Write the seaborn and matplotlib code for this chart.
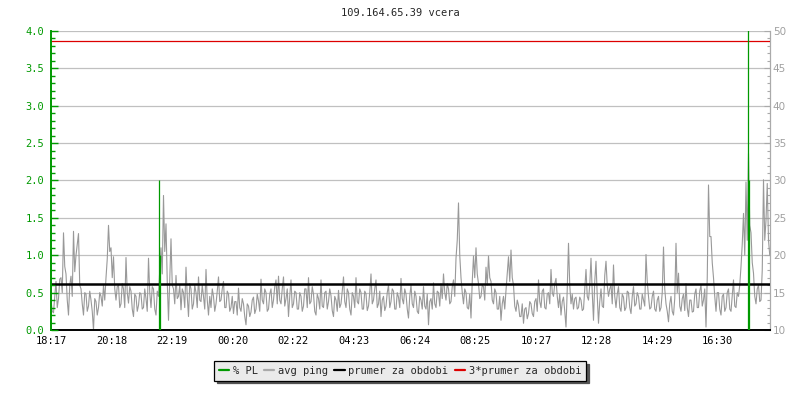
"""
Ping / packet loss chart for 109.164.65.39 (vcera).
"""
import matplotlib
matplotlib.use("Agg")
import matplotlib.pyplot as plt
from matplotlib.lines import Line2D
from matplotlib.ticker import MultipleLocator, FormatStrFormatter
import numpy as np
import pandas as pd
import seaborn as sns

# Data: avg ping in ms, one value every 2.5 minutes
# from 18:17 (one row per hour)
ping_step = 2.5
avg_ping = [
    14.0, 12.5, 12.3, 14.5, 16.5, 13.0, 14.2, 16.8, 17.0, 15.0, 23.0, 18.5,
    17.5, 14.0, 12.0, 16.0, 17.2, 14.5, 23.2, 17.8, 20.0, 21.5, 22.9, 16.0,
    15.5, 13.5, 12.0, 15.0, 14.8, 12.5, 13.2, 15.2, 14.0, 12.5, 10.0, 14.2,
    13.8, 12.0, 13.0, 15.0, 14.5, 13.2, 16.0, 14.0, 17.0, 19.5, 24.0, 20.5,
    21.0, 17.0, 19.8, 15.5, 14.0, 15.8, 16.0, 13.0, 13.5, 16.2, 15.5, 13.0,
    19.7, 15.0, 13.6, 15.8, 15.2, 12.8, 11.8, 14.8, 14.5, 12.5, 13.3, 15.0,
    14.8, 12.8, 13.0, 15.5, 14.2, 12.5, 19.6, 15.0, 13.0, 15.8, 15.5, 12.8,
    12.0, 15.2, 14.5, 18.0, 21.0, 17.5, 28.0, 20.5, 24.2, 16.5, 11.3, 16.8,
    22.2, 16.0, 15.5, 13.5, 17.3, 14.2, 14.5, 16.0, 12.7, 15.5, 15.0, 13.0,
    18.4, 14.5, 11.8, 16.2, 15.5, 12.8, 13.5, 16.0, 15.0, 13.0, 17.1, 14.0,
    13.8, 16.0, 14.5, 12.8, 18.1, 14.0, 12.0, 14.5, 13.0, 15.5, 14.5, 12.5,
    13.5, 15.2, 17.1, 13.8, 14.0, 15.5, 16.5, 13.0, 13.0, 15.2, 14.8, 12.5,
    13.0, 14.5, 12.2, 13.8, 13.8, 12.0, 15.6, 13.0, 12.5, 14.2, 13.5, 11.8,
    10.7, 13.5, 13.2, 11.8, 12.4, 14.0, 14.4, 12.2, 12.8, 14.8, 13.9, 12.5,
    16.8, 14.0, 13.5, 15.5, 15.0, 12.5, 12.8, 14.8, 15.5, 13.0, 14.0, 15.8,
    16.7, 13.5, 17.2, 14.0, 13.5, 15.5, 17.1, 13.2, 14.2, 15.5, 11.8, 14.5,
    16.7, 13.0, 13.5, 15.2, 15.0, 12.8, 12.8, 15.0, 14.5, 12.5, 13.2, 15.5,
    15.5, 13.0, 17.0, 13.5, 13.8, 15.8, 14.8, 12.5, 12.0, 14.8, 14.2, 12.8,
    16.7, 13.2, 13.0, 15.0, 15.2, 12.8, 13.8, 15.5, 14.6, 12.6, 11.8, 14.5,
    14.0, 12.5, 15.3, 13.0, 13.5, 15.2, 17.1, 13.8, 13.0, 15.5, 15.0, 12.8,
    12.0, 15.0, 14.5, 13.0, 17.0, 13.8, 13.5, 15.5, 15.0, 12.8, 12.8, 15.2,
    14.8, 12.6, 13.2, 15.0, 17.5, 13.5, 14.0, 15.5, 16.7, 13.0, 13.5, 15.2,
    11.8, 14.0, 14.5, 12.6, 13.2, 15.0, 16.0, 13.0, 13.8, 15.5, 15.2, 12.8,
    12.8, 15.0, 14.4, 13.0, 16.9, 14.2, 13.5, 15.5, 14.8, 12.8, 11.6, 14.5,
    16.0, 13.5, 13.0, 15.2, 14.5, 12.5, 12.2, 14.5, 14.0, 12.8, 15.8, 13.2,
    12.8, 14.8, 10.7, 13.8, 14.2, 12.8, 16.3, 13.5, 13.0, 15.2, 15.0, 13.2,
    16.2, 14.2, 17.5, 15.0, 14.0, 16.2, 15.5, 13.5, 13.8, 15.8, 16.7, 14.5,
    19.6, 22.0, 27.0, 20.0, 17.0, 15.0, 13.5, 15.5, 15.0, 13.0, 12.8, 14.8,
    11.6, 16.5, 19.9, 17.0, 21.0, 17.5, 16.2, 14.2, 14.5, 16.0, 15.8, 14.0,
    18.4, 16.0, 19.9, 17.0, 16.5, 14.0, 13.5, 15.5, 15.0, 12.8, 12.8, 14.5,
    11.3, 13.5, 14.5, 12.8, 15.3, 17.5, 19.8, 16.5, 20.7, 17.0, 16.0, 13.2,
    12.5, 14.0, 13.3, 11.8, 11.8, 13.5, 10.9, 12.8, 13.0, 11.5, 12.2, 13.8,
    13.5, 12.2, 11.8, 13.8, 14.2, 12.5, 16.7, 13.8, 13.0, 15.2, 15.5, 13.0,
    12.8, 14.8, 15.0, 13.5, 18.1, 15.0, 14.5, 16.2, 16.9, 14.5, 13.0, 14.8,
    12.0, 13.8, 14.4, 12.5, 10.4, 15.5, 21.6, 16.0, 13.5, 14.8, 12.8, 14.2,
    14.4, 12.8, 13.0, 14.4, 14.0, 12.6, 12.8, 15.5, 18.1, 14.5, 14.0, 16.0,
    19.6, 15.0, 11.3, 16.5, 19.2, 14.5, 10.9, 13.8, 15.5, 13.2, 13.0, 17.3,
    19.2, 16.0, 14.5, 15.5, 16.0, 13.5, 18.7, 14.5, 13.0, 14.8, 15.8, 13.0,
    12.5, 14.8, 14.4, 12.6, 13.0, 15.2, 15.0, 13.0, 12.2, 14.5, 15.8, 13.2,
    13.5, 15.0, 14.5, 12.8, 12.8, 14.8, 14.0, 13.2, 20.1, 16.5, 14.5, 12.8,
    13.0, 14.5, 15.2, 12.8, 12.5, 14.0, 14.5, 12.5, 13.0, 15.0, 21.1, 15.5,
    13.5, 12.5, 11.1, 13.5, 14.5, 12.5, 12.0, 14.2, 21.6, 15.0, 17.6, 13.2,
    12.5, 14.2, 14.8, 12.6, 16.2, 13.0, 11.8, 14.0, 14.0, 12.4, 12.5, 14.8,
    15.5, 13.0, 13.0, 15.2, 16.0, 13.2, 14.0, 15.5, 10.4, 17.0, 29.4, 22.5,
    22.5, 19.0, 17.0, 14.5, 12.5, 15.0, 15.0, 12.8, 12.0, 14.5, 14.8, 12.5,
    13.0, 15.0, 15.5, 12.8, 12.5, 14.6, 16.7, 13.2, 13.0, 15.0, 14.5, 16.0,
    18.5, 21.5, 25.6, 20.0, 29.8, 22.0, 33.6, 24.0, 23.0, 19.0, 17.6, 14.5,
    13.5, 15.5, 16.0, 13.8, 14.0, 18.0, 30.1, 22.0, 24.7, 29.6, 22.0, 20.0,
]

# packet loss spikes (% PL), minute offsets from 18:17
pl_minutes = [216, 218, 1393, 1395]
pl_values = [2.0, 1.0, 4.5, 2.0]

prumer = 16.2  # prumer za obdobi, ms

tick_minutes = [0, 121, 242, 363, 485, 606, 727, 848, 970, 1091, 1212, 1333]
tick_labels = ["18:17", "20:18", "22:19", "00:20", "02:22", "04:23",
               "06:24", "08:25", "10:27", "12:28", "14:29", "16:30"]

title = "109.164.65.39 vcera"
legend_labels = ["% PL", "avg ping", "prumer za obdobi", "3*prumer za obdobi"]

GREEN = "#009900"
GRAY = "#999999"
RED = "#dd0000"
MONO = "DejaVu Sans Mono"

sns.set_style("white")
plt.rcParams["font.family"] = ["DejaVu Sans"]

df = pd.DataFrame({
    "minute": np.arange(len(avg_ping)) * ping_step,
    "ping": avg_ping,
})

fig = plt.figure(figsize=(8, 4), dpi=100)
ax = fig.add_axes([51 / 800, 70 / 400, 719 / 800, 299 / 400])
ax2 = ax.twinx()

# ping axis (right side)
sns.lineplot(data=df, x="minute", y="ping", ax=ax, color=GRAY,
             linewidth=0.8, zorder=2)
ax.axhline(prumer, color="black", linewidth=1.8, zorder=3)
ax.axhline(3 * prumer, color=RED, linewidth=0.9, zorder=3)
ax.set_ylim(10, 50)
ax.set_xlim(0, 1438)
ax.set_xlabel("")
ax.set_ylabel("")
ax.yaxis.tick_right()
ax.yaxis.set_major_locator(MultipleLocator(5))
ax.yaxis.set_minor_locator(MultipleLocator(1))
ax.grid(axis="y", color="#c0c0c0", linewidth=0.9)
ax.set_axisbelow(True)
ax.tick_params(axis="y", which="both", direction="in", colors="#aaaaaa",
               labelcolor="#a0a0a0", labelsize=7.5, pad=2, width=0.8)
ax.tick_params(axis="y", which="major", length=4)
ax.tick_params(axis="y", which="minor", length=2.5)
ax.set_xticks(tick_minutes)
ax.set_xticklabels(tick_labels, fontfamily=MONO, fontsize=7.5)
ax.tick_params(axis="x", direction="in", length=4, width=1, colors="black",
               pad=4)

for side in ["top", "left"]:
    ax.spines[side].set_visible(False)
ax.spines["bottom"].set_color("black")
ax.spines["bottom"].set_linewidth(1.4)
ax.spines["right"].set_color("#aaaaaa")
ax.spines["right"].set_linewidth(0.9)

# packet loss axis (left side)
ax2.vlines(pl_minutes, 0, pl_values, color=GREEN, linewidth=0.9, zorder=4)
ax2.set_ylim(0, 4.0)
ax2.yaxis.tick_left()
ax2.yaxis.set_major_locator(MultipleLocator(0.5))
ax2.yaxis.set_minor_locator(MultipleLocator(0.1))
ax2.yaxis.set_major_formatter(FormatStrFormatter("%.1f"))
ax2.tick_params(axis="y", which="both", direction="in", colors=GREEN,
                labelsize=7.5, pad=5, width=1)
ax2.tick_params(axis="y", which="major", length=5)
ax2.tick_params(axis="y", which="minor", length=3)
for lbl in ax2.get_yticklabels():
    lbl.set_fontfamily(MONO)
for side in ["top", "right", "bottom"]:
    ax2.spines[side].set_visible(False)
ax2.spines["left"].set_color(GREEN)
ax2.spines["left"].set_linewidth(1.4)

fig.text(0.5, 1 - 13 / 400, title, ha="center", va="center",
         fontfamily=MONO, fontsize=7.5)

handles = [
    Line2D([], [], color=GREEN, linewidth=1.6),
    Line2D([], [], color="#aaaaaa", linewidth=1.6),
    Line2D([], [], color="black", linewidth=1.6),
    Line2D([], [], color=RED, linewidth=1.6),
]
leg = fig.legend(handles, legend_labels, loc="center",
                 bbox_to_anchor=(0.5, 1 - 371 / 400), ncol=4,
                 prop={"family": MONO, "size": 7.5}, frameon=True,
                 fancybox=False, shadow={"color": "#555555", "alpha": 1},
                 edgecolor="black", facecolor="#ebebeb", framealpha=1,
                 handlelength=1.0, handletextpad=0.35, columnspacing=0.6,
                 borderpad=0.45, borderaxespad=0)
leg.get_frame().set_linewidth(0.9)

plt.savefig("out.png", dpi=100)
plt.close()
